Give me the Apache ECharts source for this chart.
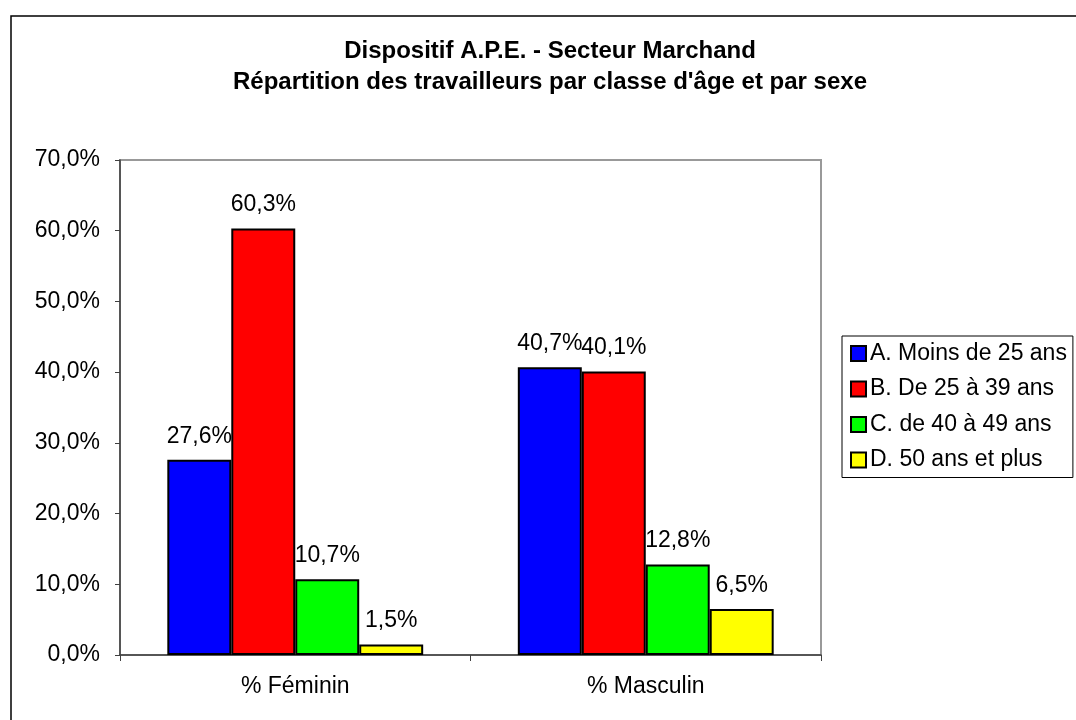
<!DOCTYPE html>
<html>
<head>
<meta charset="utf-8">
<script src="https://cdn.jsdelivr.net/npm/echarts@6/dist/echarts.min.js"></script>
<style>
  html, body { margin: 0; padding: 0; background: #fff; }
  #chart { width: 1076px; height: 720px; }
</style>
</head>
<body>
<div id="chart"></div>
<script>
const categories = ['% Féminin', '% Masculin'];
const seriesNames = ['A. Moins de 25 ans', 'B. De 25 à 39 ans', 'C. de 40 à 49 ans', 'D. 50 ans et plus'];
const moins25 = [27.6, 40.7];
const de25a39 = [60.3, 40.1];
const de40a49 = [10.7, 12.8];
const plus50 = [1.5, 6.5];
const colors = ['#0000FF', '#FF0000', '#00FF00', '#FFFF00'];

const FONT = '"Liberation Sans", Arial, sans-serif';
const fmt = v => v.toFixed(1).replace('.', ',') + '%';

const chart = echarts.init(document.getElementById('chart'));

// one bar series per age class
const series = [moins25, de25a39, de40a49, plus50].map((data, i) => ({
  name: seriesNames[i],
  type: 'bar',
  data: data,
  barGap: '0%',
  barCategoryGap: '27%',
  itemStyle: { color: colors[i], borderColor: '#000', borderWidth: 2 },
  label: {
    show: true,
    position: 'top',
    distance: 12,
    formatter: p => fmt(p.value),
    fontSize: 23,
    fontFamily: FONT,
    color: '#000'
  },
  emphasis: { disabled: true }
}));

const option = {
  animation: false,
  backgroundColor: '#fff',
  title: {
    text: 'Dispositif A.P.E. - Secteur Marchand\nRépartition des travailleurs par classe d\'âge et par sexe',
    left: 550,
    top: 36,
    padding: 0,
    textAlign: 'center',
    textStyle: {
      fontFamily: FONT,
      fontSize: 24,
      fontWeight: 'bold',
      lineHeight: 31,
      color: '#000'
    }
  },
  legend: {
    orient: 'vertical',
    left: 842,
    top: 336,
    padding: [6, 6, 6, 8],
    itemGap: 12.5,
    itemWidth: 15,
    itemHeight: 15,
    icon: 'rect',
    borderColor: '#000',
    borderWidth: 1,
    itemStyle: { borderColor: '#000', borderWidth: 2 },
    textStyle: { fontFamily: FONT, fontSize: 23, lineHeight: 23, color: '#000', padding: [0, 0, 0, -1] },
    data: seriesNames
  },
  graphic: [{
    type: 'rect',
    shape: { x: 11, y: 16, width: 1100, height: 760 },
    style: { fill: 'none', stroke: '#000', lineWidth: 1.5 },
    silent: true
  }],
  grid: {
    left: 120,
    right: 255,
    top: 160,
    bottom: 65,
    show: true,
    borderColor: '#999',
    borderWidth: 2,
    backgroundColor: '#fff'
  },
  xAxis: {
    type: 'category',
    data: categories,
    axisLine: { lineStyle: { color: '#404040', width: 1.5 } },
    axisTick: { show: true, length: 6, lineStyle: { color: '#404040' } },
    axisLabel: { fontFamily: FONT, fontSize: 23, color: '#000', margin: 20 }
  },
  yAxis: {
    type: 'value',
    min: 0,
    max: 70,
    interval: 10,
    splitLine: { show: false },
    axisLine: { show: true, lineStyle: { color: '#404040', width: 1.5 } },
    axisTick: { show: true, length: 5, lineStyle: { color: '#404040' } },
    axisLabel: { fontFamily: FONT, fontSize: 23, color: '#000', margin: 20, formatter: v => fmt(v) }
  },
  series: series
};

chart.setOption(option);
</script>
</body>
</html>
